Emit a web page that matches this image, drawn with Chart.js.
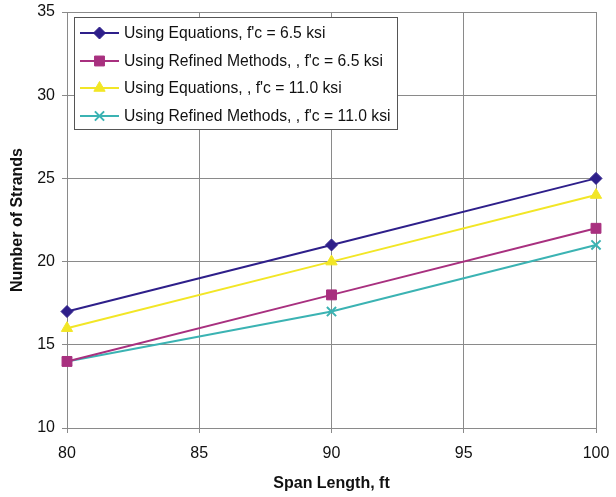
<!DOCTYPE html>
<html>
<head>
<meta charset="utf-8">
<script src="https://cdn.jsdelivr.net/npm/chart.js@4/dist/chart.umd.min.js"></script>
<style>
html,body{margin:0;padding:0;background:#fff;}
#wrap{width:616px;height:497px;}
</style>
</head>
<body>
<div id="wrap"><canvas id="c" width="616" height="497"></canvas></div>
<script>
const spans = [80, 90, 100];
const eq65 = [17, 21, 25];
const ref65 = [14, 18, 22];
const eq110 = [16, 20, 24];
const ref110 = [14, 17, 21];
const labels = [
  "Using Equations, f'c = 6.5 ksi",
  "Using Refined Methods, , f'c = 6.5 ksi",
  "Using Equations, , f'c = 11.0 ksi",
  "Using Refined Methods, , f'c = 11.0 ksi"
];
const colors = ['#2E1F8A', '#A8307F', '#F2E626', '#3BB3B3'];
const styles = ['rectRot', 'rect', 'triangle', 'crossRot'];
const radii = [6, 7, 6.5, 6.5];
const seriesData = [eq65, ref65, eq110, ref110];

const datasets = seriesData.map((vals, i) => ({
  label: labels[i],
  data: spans.map((x, j) => ({x: x, y: vals[j]})),
  borderColor: colors[i],
  backgroundColor: colors[i],
  pointBackgroundColor: colors[i],
  pointBorderColor: colors[i],
  pointStyle: styles[i],
  pointRadius: radii[i],
  pointBorderWidth: i === 3 ? 2 : 1,
  borderWidth: 2,
  tension: 0,
  clip: false
}));

const FONT = "'Liberation Sans', Arial, sans-serif";

const insideLegend = {
  id: 'insideLegend',
  afterDatasetsDraw(chart) {
    const ctx = chart.ctx;
    const x0 = 74, y0 = 17, w = 323, h = 112;
    ctx.save();
    ctx.fillStyle = '#fff';
    ctx.fillRect(x0, y0, w, h);
    ctx.strokeStyle = '#555';
    ctx.lineWidth = 1;
    ctx.strokeRect(x0 + 0.5, y0 + 0.5, w, h);
    const rows = [33, 61, 88, 116];
    chart.data.datasets.forEach((ds, i) => {
      const y = rows[i];
      ctx.strokeStyle = ds.borderColor;
      ctx.lineWidth = 2;
      ctx.beginPath();
      ctx.moveTo(80, y);
      ctx.lineTo(119, y);
      ctx.stroke();
      ctx.fillStyle = ds.pointBackgroundColor;
      ctx.strokeStyle = ds.pointBorderColor;
      ctx.lineWidth = ds.pointBorderWidth;
      Chart.helpers.drawPoint(ctx, {
        pointStyle: ds.pointStyle,
        radius: ds.pointRadius,
        borderWidth: ds.pointBorderWidth,
        rotation: 0
      }, 99.5, y);
      ctx.fillStyle = '#111';
      ctx.font = '15.7px ' + FONT;
      ctx.textBaseline = 'middle';
      ctx.textAlign = 'left';
      ctx.fillText(ds.label, 124, y + 1);
    });
    ctx.restore();
  }
};

const plotBorder = {
  id: 'plotBorder',
  beforeDatasetsDraw(chart) {
    const a = chart.chartArea;
    const ctx = chart.ctx;
    ctx.save();
    ctx.strokeStyle = '#8a8a8a';
    ctx.lineWidth = 1;
    ctx.strokeRect(Math.round(a.left) + 0.5, Math.round(a.top) + 0.5, Math.round(a.right - a.left), Math.round(a.bottom - a.top));
    ctx.restore();
  }
};

new Chart(document.getElementById('c'), {
  type: 'line',
  data: { datasets: datasets },
  plugins: [plotBorder, insideLegend],
  options: {
    responsive: false,
    animation: false,
    devicePixelRatio: 1,
    layout: { padding: { left: 0, right: 20, top: 12, bottom: 0 } },
    plugins: { legend: { display: false }, tooltip: { enabled: false } },
    scales: {
      x: {
        type: 'linear',
        min: 80, max: 100,
        ticks: { stepSize: 5, color: '#111', font: { family: FONT, size: 16 }, padding: 11 },
        grid: { color: '#8a8a8a', lineWidth: 1, tickLength: 5, drawTicks: true },
        border: { color: '#8a8a8a' },
        title: { display: true, text: 'Span Length, ft', color: '#111', font: { family: FONT, size: 16, weight: 'bold' }, padding: { top: 8 } },
        afterFit(s) { s.height = 69; s.paddingLeft = 0; s.paddingRight = 0; }
      },
      y: {
        min: 10, max: 35,
        ticks: { stepSize: 5, color: '#111', font: { family: FONT, size: 16 }, padding: 7 },
        grid: { color: '#8a8a8a', lineWidth: 1, tickLength: 5 },
        border: { color: '#8a8a8a' },
        title: { display: true, text: 'Number of Strands', color: '#111', font: { family: FONT, size: 16, weight: 'bold' }, padding: { top: 8, bottom: 0 } },
        afterFit(s) { s.width = 67; s.paddingTop = 0; s.paddingBottom = 0; }
      }
    }
  }
});
</script>
</body>
</html>
